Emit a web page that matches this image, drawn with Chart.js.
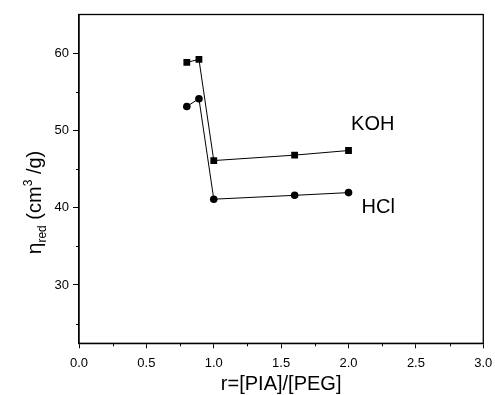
<!DOCTYPE html>
<html>
<head>
<meta charset="utf-8">
<script src="https://cdn.jsdelivr.net/npm/chart.js@4.4.1/dist/chart.umd.min.js"></script>
<style>
  html, body { margin: 0; padding: 0; background: #fff; }
  #wrap { width: 495px; height: 395px; }
</style>
</head>
<body>
<div id="wrap"><canvas id="c" width="495" height="395"></canvas></div>
<script>
const FONT = "'Liberation Sans', Arial, sans-serif";
const INK = "#000";

// data
const R_VALUES = [0.8, 0.89, 1.0, 1.6, 2.0];
const KOH = [58.8, 59.2, 46.1, 46.8, 47.4];
const HCL = [53.1, 54.1, 41.1, 41.6, 41.95];

// axes
const X_MIN = 0, X_MAX = 3;
const Y_MIN = 22.45, Y_MAX = 65;
const X_MAJOR = [0, 0.5, 1.0, 1.5, 2.0, 2.5, 3.0];
const X_MINOR = [0.25, 0.75, 1.25, 1.75, 2.25, 2.75];
const Y_MAJOR = [30, 40, 50, 60];
const Y_MINOR = [25, 35, 45, 55];

// curve labels, in data units
const LABEL_TEXT = ["KOH", "HCl"];
const LABEL_X = [2.18, 2.22];
const LABEL_Y = [50.8, 40.05];

const X_TITLE = "r=[PIA]/[PEG]";

const isMajor = (list, v) => list.some((m) => Math.abs(m - v) < 1e-6);

// short minor ticks, the frame, titles and curve labels
const decor = {
  id: "decor",
  afterDraw(chart) {
    const { ctx, chartArea: a, scales } = chart;
    const xs = scales.x, ys = scales.y;
    ctx.save();
    ctx.strokeStyle = INK;
    ctx.lineWidth = 1.3;
    ctx.strokeRect(a.left, a.top, a.right - a.left, a.bottom - a.top);

    ctx.lineWidth = 1;
    ctx.beginPath();
    X_MINOR.forEach((v) => {
      const px = Math.round(xs.getPixelForValue(v)) + 0.5;
      ctx.moveTo(px, a.bottom);
      ctx.lineTo(px, a.bottom + 3);
    });
    Y_MINOR.forEach((v) => {
      const py = Math.round(ys.getPixelForValue(v)) + 0.5;
      ctx.moveTo(a.left, py);
      ctx.lineTo(a.left - 3, py);
    });
    ctx.stroke();

    ctx.fillStyle = INK;
    ctx.font = `20px ${FONT}`;
    ctx.textAlign = "center";
    ctx.textBaseline = "middle";
    LABEL_TEXT.forEach((t, i) => {
      ctx.fillText(t, xs.getPixelForValue(LABEL_X[i]), ys.getPixelForValue(LABEL_Y[i]));
    });

    // x title
    ctx.textBaseline = "alphabetic";
    ctx.fillText(X_TITLE, (a.left + a.right) / 2, 390);

    // y title: eta_red (cm^3 /g), rotated
    const parts = [
      { t: "\u03b7", size: 21, dy: 0 },
      { t: "red", size: 12, dy: 5 },
      { t: " (cm", size: 20, dy: 0 },
      { t: "3", size: 12, dy: -9 },
      { t: " /g)", size: 20, dy: 0 },
    ];
    let total = 0;
    parts.forEach((p) => {
      ctx.font = `${p.size}px ${FONT}`;
      p.w = ctx.measureText(p.t).width;
      total += p.w;
    });
    ctx.translate(41, 202.5);
    ctx.rotate(-Math.PI / 2);
    ctx.textAlign = "left";
    let x = -total / 2;
    parts.forEach((p) => {
      ctx.font = `${p.size}px ${FONT}`;
      ctx.fillText(p.t, x, p.dy);
      x += p.w;
    });
    ctx.restore();
  },
};

const tickFont = { family: FONT, size: 13 };

new Chart(document.getElementById("c"), {
  type: "scatter",
  data: {
    datasets: [
      {
        label: "KOH",
        data: R_VALUES.map((r, i) => ({ x: r, y: KOH[i] })),
        showLine: true,
        borderColor: INK,
        borderWidth: 1,
        pointStyle: "rect",
        pointRadius: 4.8,
        pointBackgroundColor: INK,
        pointBorderWidth: 0,
      },
      {
        label: "HCl",
        data: R_VALUES.map((r, i) => ({ x: r, y: HCL[i] })),
        showLine: true,
        borderColor: INK,
        borderWidth: 1,
        pointStyle: "circle",
        pointRadius: 3.8,
        pointBackgroundColor: INK,
        pointBorderWidth: 0,
      },
    ],
  },
  options: {
    responsive: false,
    animation: false,
    events: [],
    layout: { padding: { top: 14.5, right: 11.7, left: 0, bottom: 0 } },
    plugins: { legend: { display: false }, tooltip: { enabled: false } },
    scales: {
      x: {
        type: "linear",
        min: X_MIN,
        max: X_MAX,
        afterBuildTicks: (s) => { s.ticks = X_MAJOR.map((v) => ({ value: v })); },
        afterFit: (s) => { s.height = 51.7; s.paddingLeft = 0; s.paddingRight = 0; },
        ticks: {
          color: INK,
          font: tickFont,
          padding: 7,
          maxRotation: 0,
          callback: (v) => v.toFixed(1),
        },
        grid: { drawOnChartArea: false, tickLength: 5, tickColor: INK, tickWidth: 1 },
        border: { color: INK, width: 1.3 },
      },
      y: {
        type: "linear",
        min: Y_MIN,
        max: Y_MAX,
        afterBuildTicks: (s) => { s.ticks = Y_MAJOR.map((v) => ({ value: v })); },
        afterFit: (s) => { s.width = 79; s.paddingTop = 0; s.paddingBottom = 0; },
        ticks: {
          color: INK,
          font: tickFont,
          padding: 4,
          callback: (v) => (isMajor(Y_MAJOR, v) ? String(v) : ""),
        },
        grid: { drawOnChartArea: false, tickLength: 6, tickColor: INK, tickWidth: 1 },
        border: { color: INK, width: 1.3 },
      },
    },
  },
  plugins: [decor],
});
</script>
</body>
</html>
